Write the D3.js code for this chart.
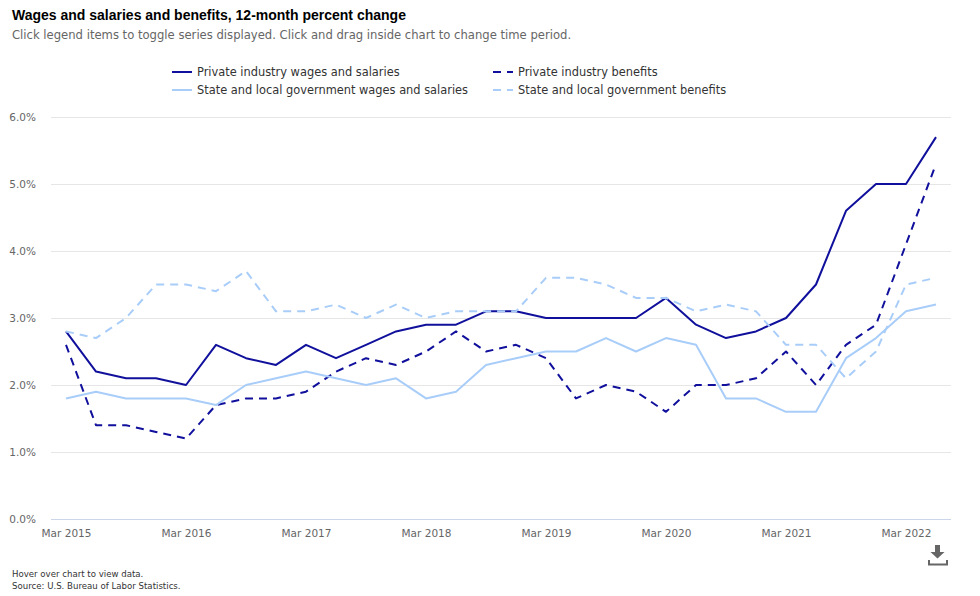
<!DOCTYPE html>
<html>
<head>
<meta charset="utf-8">
<script src="https://cdn.jsdelivr.net/npm/d3@7"></script>
<style>
  html, body { margin: 0; padding: 0; background: #ffffff; }
  svg { display: block; }
</style>
</head>
<body>
<svg id="chart" width="980" height="596"></svg>
<script>
// ---------------- DATA ----------------
const categories = [
  "Mar 2015","Jun 2015","Sep 2015","Dec 2015",
  "Mar 2016","Jun 2016","Sep 2016","Dec 2016",
  "Mar 2017","Jun 2017","Sep 2017","Dec 2017",
  "Mar 2018","Jun 2018","Sep 2018","Dec 2018",
  "Mar 2019","Jun 2019","Sep 2019","Dec 2019",
  "Mar 2020","Jun 2020","Sep 2020","Dec 2020",
  "Mar 2021","Jun 2021","Sep 2021","Dec 2021",
  "Mar 2022","Jun 2022"
];
const privateWages = [2.8,2.2,2.1,2.1, 2.0,2.6,2.4,2.3, 2.6,2.4,2.6,2.8, 2.9,2.9,3.1,3.1, 3.0,3.0,3.0,3.0, 3.3,2.9,2.7,2.8, 3.0,3.5,4.6,5.0, 5.0,5.7];
const privateBenefits = [2.6,1.4,1.4,1.3, 1.2,1.7,1.8,1.8, 1.9,2.2,2.4,2.3, 2.5,2.8,2.5,2.6, 2.4,1.8,2.0,1.9, 1.6,2.0,2.0,2.1, 2.5,2.0,2.6,2.9, 4.1,5.3];
const stateLocalWages = [1.8,1.9,1.8,1.8, 1.8,1.7,2.0,2.1, 2.2,2.1,2.0,2.1, 1.8,1.9,2.3,2.4, 2.5,2.5,2.7,2.5, 2.7,2.6,1.8,1.8, 1.6,1.6,2.4,2.7, 3.1,3.2];
const stateLocalBenefits = [2.8,2.7,3.0,3.5, 3.5,3.4,3.7,3.1, 3.1,3.2,3.0,3.2, 3.0,3.1,3.1,3.1, 3.6,3.6,3.5,3.3, 3.3,3.1,3.2,3.1, 2.6,2.6,2.1,2.5, 3.5,3.6];
const seriesNames = [
  "Private industry wages and salaries",
  "Private industry benefits",
  "State and local government wages and salaries",
  "State and local government benefits"
];
const yTicks = [0, 1, 2, 3, 4, 5, 6];
const xTickLabels = ["Mar 2015","Mar 2016","Mar 2017","Mar 2018","Mar 2019","Mar 2020","Mar 2021","Mar 2022"];

const titleText = "Wages and salaries and benefits, 12-month percent change";
const subtitleText = "Click legend items to toggle series displayed. Click and drag inside chart to change time period.";
const footerLines = ["Hover over chart to view data.", "Source: U.S. Bureau of Labor Statistics."];

// ---------------- STYLE ----------------
const darkBlue = "#10109c";
const lightBlue = "#a9cdf9";
const seriesStyles = [
  { color: darkBlue, dash: null },
  { color: darkBlue, dash: "8,6" },
  { color: lightBlue, dash: null },
  { color: lightBlue, dash: "8,6" }
];
const seriesValues = [privateWages, privateBenefits, stateLocalWages, stateLocalBenefits];
const uiFont = "'DejaVu Sans', Verdana, sans-serif";

const svg = d3.select("#chart");

function fitWidth(sel, target) {
  const node = sel.node();
  const size = parseFloat(sel.attr("font-size"));
  const w = node.getComputedTextLength();
  if (w > 0) sel.attr("font-size", (size * target / w).toFixed(2));
  return sel;
}

// Title and subtitle
svg.append("text")
  .attr("x", 12).attr("y", 20)
  .attr("font-family", "'Liberation Sans', Arial, sans-serif")
  .attr("font-weight", "bold")
  .attr("font-size", 14)
  .attr("fill", "#000")
  .text(titleText);

fitWidth(svg.append("text")
  .attr("x", 12).attr("y", 39)
  .attr("font-family", uiFont)
  .attr("font-size", 12)
  .attr("fill", "#666666")
  .text(subtitleText), 559);

// Scales
const x = d3.scalePoint().domain(categories).range([66, 936]);
const y = d3.scaleLinear().domain([0, 6]).range([519, 117]);
const plotLeft = 51, plotRight = 951;

// Gridlines
const grid = svg.append("g");
grid.selectAll("line")
  .data(yTicks.filter(d => d !== 0))
  .join("line")
  .attr("x1", plotLeft).attr("x2", plotRight)
  .attr("y1", d => Math.round(y(d)) + 0.5).attr("y2", d => Math.round(y(d)) + 0.5)
  .attr("stroke", "#e6e6e6").attr("stroke-width", 1);

// X axis line
svg.append("line")
  .attr("x1", plotLeft).attr("x2", plotRight)
  .attr("y1", Math.round(y(0)) + 0.5).attr("y2", Math.round(y(0)) + 0.5)
  .attr("stroke", "#ccd6eb").attr("stroke-width", 1);

// Y axis labels
const yAxis = d3.axisLeft(y).tickValues(yTicks).tickFormat(d => d.toFixed(1) + "%").tickSize(0).tickPadding(0);
const yG = svg.append("g").attr("transform", "translate(36,0)").call(yAxis);
yG.select(".domain").remove();
yG.selectAll("text")
  .attr("font-family", uiFont)
  .attr("font-size", 10.5)
  .attr("fill", "#666666")
  .attr("dy", "0.35em");

// X axis labels
const xAxis = d3.axisBottom(x).tickValues(xTickLabels).tickSize(0).tickPadding(0);
const xG = svg.append("g").attr("transform", "translate(0,530)").call(xAxis);
xG.select(".domain").remove();
xG.selectAll("text")
  .attr("font-family", uiFont)
  .attr("font-size", 10.5)
  .attr("fill", "#666666")
  .attr("dy", "0.71em");

// Lines
const line = d3.line()
  .x((d, i) => x(categories[i]))
  .y(d => y(d));

svg.append("g").selectAll("path")
  .data(seriesValues)
  .join("path")
  .attr("d", d => line(d))
  .attr("fill", "none")
  .attr("stroke", (d, i) => seriesStyles[i].color)
  .attr("stroke-width", 2)
  .attr("stroke-linejoin", "round")
  .attr("stroke-linecap", "butt")
  .attr("stroke-dasharray", (d, i) => seriesStyles[i].dash);

// Legend
const legendPos = [
  { sx: 172, tx: 197, y: 72 },
  { sx: 493, tx: 518, y: 72 },
  { sx: 172, tx: 197, y: 90 },
  { sx: 493, tx: 518, y: 90 }
];
const legend = svg.append("g");
seriesNames.forEach((name, i) => {
  const p = legendPos[i];
  legend.append("line")
    .attr("x1", p.sx).attr("x2", p.sx + 20)
    .attr("y1", p.y).attr("y2", p.y)
    .attr("stroke", seriesStyles[i].color)
    .attr("stroke-width", 2)
    .attr("stroke-dasharray", seriesStyles[i].dash);
  legend.append("text")
    .attr("x", p.tx).attr("y", p.y)
    .attr("dy", "0.35em")
    .attr("font-family", uiFont)
    .attr("font-size", 11.4)
    .attr("fill", "#333333")
    .text(name);
});

// Footer
footerLines.forEach((t, i) => {
  svg.append("text")
    .attr("x", 12).attr("y", 577 + i * 12)
    .attr("font-family", uiFont)
    .attr("font-size", 8.6)
    .attr("fill", "#333333")
    .text(t);
});

// Download icon
const icon = svg.append("g").attr("fill", "#666666").attr("stroke", "none");
icon.append("rect").attr("x", 935).attr("y", 545).attr("width", 5).attr("height", 7);
icon.append("path").attr("d", "M930.5,552 L944.5,552 L937.5,558.5 Z");
icon.append("path")
  .attr("d", "M929,560 L929,564.5 L947,564.5 L947,560")
  .attr("fill", "none").attr("stroke", "#666666").attr("stroke-width", 2);
</script>
</body>
</html>
